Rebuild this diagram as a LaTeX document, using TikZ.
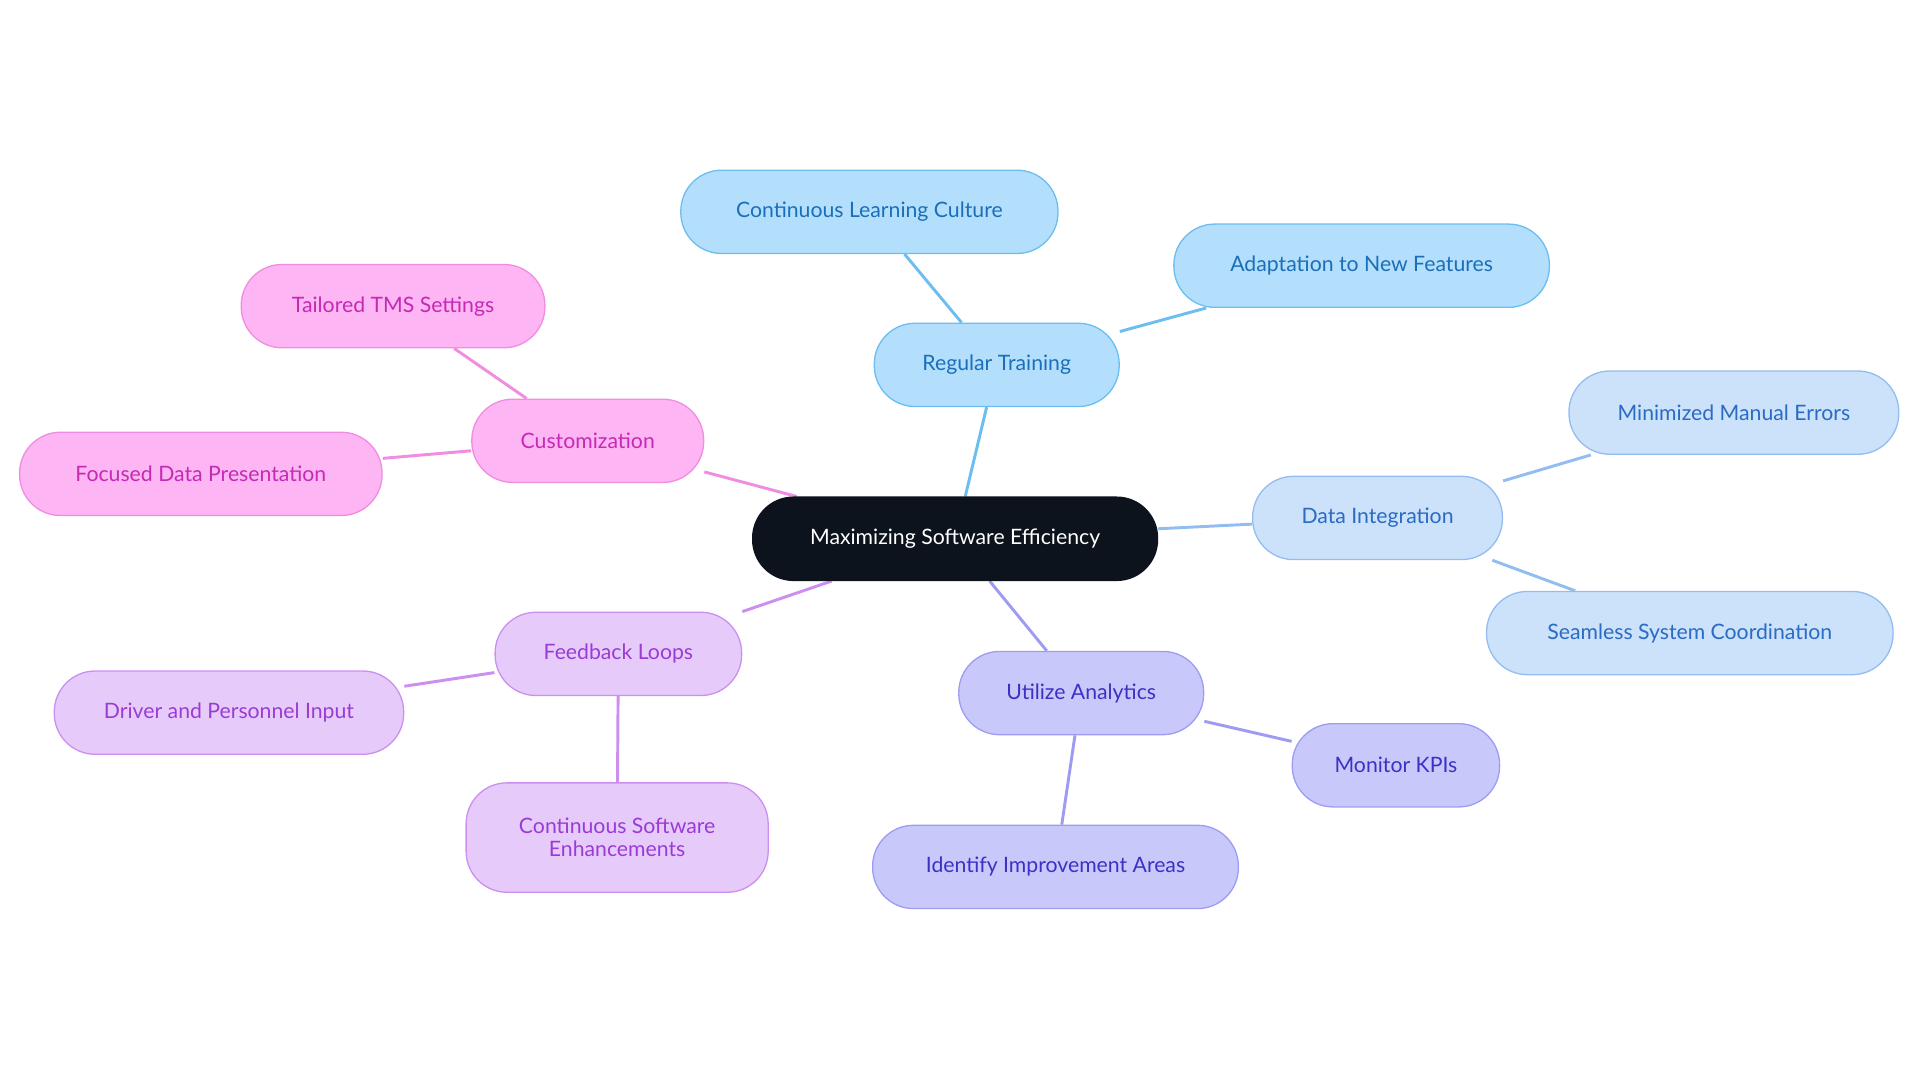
\documentclass[tikz,border=0pt]{standalone}
\usepackage{fontspec}
\setmainfont{Lato}
\pgfdeclarelayer{bg}\pgfsetlayers{bg,main}
\definecolor{cfill}{HTML}{0D131C}
\definecolor{tf}{HTML}{B3DFFD}\definecolor{ts}{HTML}{6CBDF0}\definecolor{tt}{HTML}{1A6FB8}
\definecolor{df}{HTML}{CCE1FA}\definecolor{ds}{HTML}{93BDF0}\definecolor{dt}{HTML}{2A6BC4}
\definecolor{af}{HTML}{C8C9FA}\definecolor{as}{HTML}{9E9CF2}\definecolor{at}{HTML}{3B32C4}
\definecolor{ff}{HTML}{E6CBFA}\definecolor{fs}{HTML}{CC8FF0}\definecolor{ft}{HTML}{9A3BD6}
\definecolor{mf}{HTML}{FDB5F3}\definecolor{ms}{HTML}{F08DE0}\definecolor{mt}{HTML}{C42AB4}
\tikzset{
 box/.style={rounded corners=25pt,minimum height=51pt,inner sep=0pt,font=\fontsize{13}{14}\selectfont,align=center,line width=0.8pt},
 tr/.style={box,fill=tf,draw=ts,text=tt},
 da/.style={box,fill=df,draw=ds,text=dt},
 an/.style={box,fill=af,draw=as,text=at},
 fb/.style={box,fill=ff,draw=fs,text=ft},
 cu/.style={box,fill=mf,draw=ms,text=mt},
 edge/.style={line width=1.8pt}
}
\begin{document}
\begin{tikzpicture}[x=0.75pt,y=-0.75pt]
\useasboundingbox (0,0) rectangle (1568,884);
\node[box,fill=cfill,draw=cfill,text=white,minimum width=248pt] (c) at (780,440) {Maximizing Software Efficiency};
\node[tr,minimum width=150pt] (rt) at (814,298) {Regular Training};
\node[tr,minimum width=231pt] (clc) at (710,173) {Continuous Learning Culture};
\node[tr,minimum width=230pt] (anf) at (1112,217) {Adaptation to New Features};
\node[da,minimum width=153pt] (di) at (1125,423) {Data Integration};
\node[da,minimum width=202pt] (mme) at (1416,337) {Minimized Manual Errors};
\node[da,minimum width=249pt] (ssc) at (1380,517) {Seamless System Coordination};
\node[an,minimum width=150pt] (ua) at (883,566) {Utilize Analytics};
\node[an,minimum width=127pt] (mk) at (1140,625) {Monitor KPIs};
\node[an,minimum width=224pt] (iia) at (862,708) {Identify Improvement Areas};
\node[fb,minimum width=151pt] (fl) at (505,534) {Feedback Loops};
\node[fb,minimum width=214pt] (dpi) at (187,582) {Driver and Personnel Input};
\node[fb,minimum width=185pt,minimum height=67pt] (cse) at (504,684) {Continuous Software\\Enhancements};
\node[cu,minimum width=142pt] (cu) at (480,360) {Customization};
\node[cu,minimum width=186pt] (tms) at (321,250) {Tailored TMS Settings};
\node[cu,minimum width=222pt] (fdp) at (164,387) {Focused Data Presentation};
\begin{pgfonlayer}{bg}
\draw[edge,ts] (c) -- (rt) (rt) -- (clc) (rt) -- (anf);
\draw[edge,ds] (c) -- (di) (di) -- (mme) (di) -- (ssc);
\draw[edge,as] (c) -- (ua) (ua) -- (mk) (ua) -- (iia);
\draw[edge,fs] (c) -- (fl) (fl) -- (dpi) (fl) -- (cse);
\draw[edge,ms] (c) -- (cu) (cu) -- (tms) (cu) -- (fdp);
\end{pgfonlayer}
\end{tikzpicture}
\end{document}
